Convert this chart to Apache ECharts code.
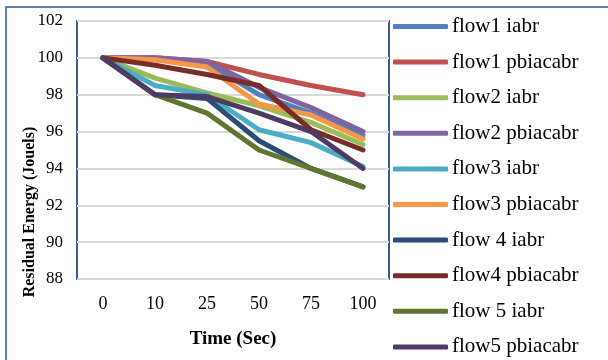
<!DOCTYPE html>
<html>
<head>
<meta charset="utf-8">
<script src="https://cdn.jsdelivr.net/npm/echarts@6/dist/echarts.min.js"></script>
<style>
  html, body { margin: 0; padding: 0; background: #fff; }
  #diagram { width: 608px; height: 360px; }
</style>
</head>
<body>
<div id="diagram"></div>
<script>
var times = ["0", "10", "25", "50", "75", "100"];
var flow1Iabr = [100, 99.9, 99.7, 98, 97, 95.8];
var flow1Pbiacabr = [100, 100, 99.8, 99.1, 98.5, 98];
var flow2Iabr = [100, 98.9, 98.1, 97.4, 96.5, 95.3];
var flow2Pbiacabr = [100, 100, 99.8, 98.4, 97.3, 96];
var flow3Iabr = [100, 98.5, 98, 96.1, 95.4, 94.1];
var flow3Pbiacabr = [100, 99.9, 99.5, 97.5, 96.9, 95.6];
var flow4Iabr = [100, 98, 97.8, 95.5, 94, 93];
var flow4Pbiacabr = [100, 99.6, 99.1, 98.5, 96.1, 95];
var flow5Iabr = [100, 98, 97, 95, 94, 93];
var flow5Pbiacabr = [100, 98, 97.9, 97, 96, 94];

var names = ["flow1 iabr", "flow1 pbiacabr", "flow2 iabr", "flow2 pbiacabr", "flow3 iabr",
  "flow3 pbiacabr", "flow 4 iabr", "flow4 pbiacabr", "flow 5 iabr", "flow5 pbiacabr"];
var values = [flow1Iabr, flow1Pbiacabr, flow2Iabr, flow2Pbiacabr, flow3Iabr,
  flow3Pbiacabr, flow4Iabr, flow4Pbiacabr, flow5Iabr, flow5Pbiacabr];

var serif = "'Liberation Serif', 'DejaVu Serif', serif";
var myChart = echarts.init(document.getElementById("diagram"));

var series = names.map(function (n, i) {
  return {
    name: n,
    type: "line",
    data: values[i],
    symbol: "none",
    lineStyle: { width: 5, cap: "round", join: "round" }
  };
});

var option = {
  animation: false,
  color: ["#4F81BD", "#C0504D", "#9BBB59", "#8064A2", "#4BACC6",
    "#F79646", "#2C4D75", "#772C2A", "#5F7530", "#4D3B62"],
  grid: {
    left: 77, top: 21, right: 219, bottom: 81,
    show: true, borderColor: "#3A5F8F", borderWidth: 2, backgroundColor: "#fff"
  },
  legend: {
    orient: "vertical",
    left: 393, top: 16, height: 358,
    padding: 0,
    icon: "roundRect",
    itemWidth: 55, itemHeight: 5, itemGap: 14.6,
    data: names,
    textStyle: { fontFamily: serif, fontSize: 21, lineHeight: 18, color: "#000", padding: [0, 0, 0, -1] }
  },
  xAxis: {
    type: "category",
    data: times,
    boundaryGap: true,
    axisLine: { show: false },
    axisTick: { show: false },
    axisLabel: { fontFamily: serif, fontSize: 18, color: "#000", margin: 16 },
    name: "Time (Sec)",
    nameLocation: "middle",
    nameGap: 51,
    nameTextStyle: { fontFamily: serif, fontSize: 19, fontWeight: "bold", color: "#000" }
  },
  yAxis: {
    type: "value",
    min: 88, max: 102, interval: 2,
    axisLine: { show: false },
    axisTick: { show: false },
    axisLabel: { fontFamily: serif, fontSize: 17, color: "#000", margin: 14 },
    splitLine: { lineStyle: { color: "#D9D9D9", width: 2 } }
  },
  graphic: [
    {
      type: "rect",
      shape: { x: 6, y: 7, width: 700, height: 500 },
      style: { fill: "none", stroke: "#2F5597", lineWidth: 1.5 },
      silent: true, z: -10
    },
    {
      type: "text",
      x: 30, y: 212,
      rotation: Math.PI / 2,
      style: {
        text: "Residual Energy (Jouels)",
        font: "bold 16px " + serif,
        fill: "#000",
        align: "center",
        verticalAlign: "middle"
      }
    }
  ],
  series: series
};
myChart.setOption(option);
</script>
</body>
</html>
